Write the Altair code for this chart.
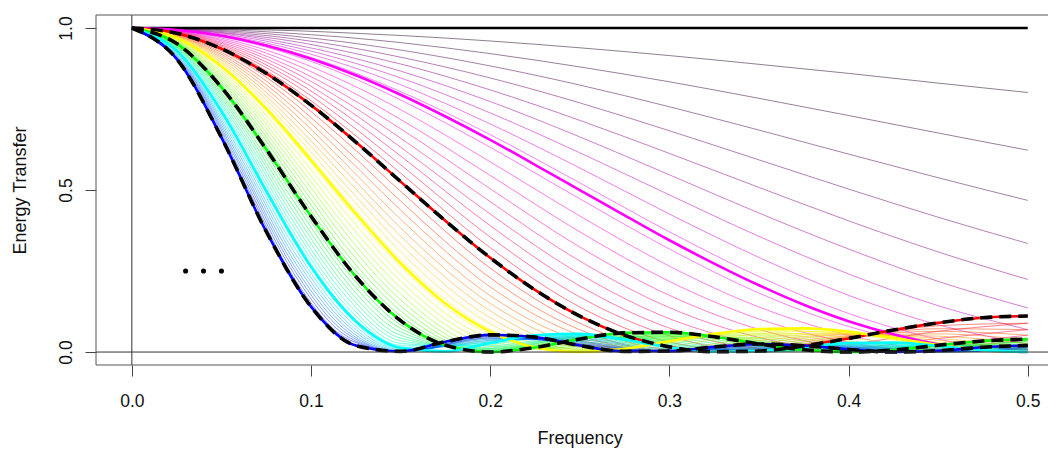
import altair as alt
import pandas as pd

# ---------------- data ----------------
FREQ_THIN = [0.0, 0.03, 0.06, 0.09, 0.12, 0.15, 0.2, 0.25, 0.3, 0.35, 0.4, 0.45, 0.5]
FREQ_THICK = [0.0, 0.025, 0.05, 0.075, 0.1, 0.125, 0.15, 0.175, 0.2, 0.225, 0.25,
              0.275, 0.3, 0.325, 0.35, 0.375, 0.4, 0.425, 0.45, 0.475, 0.5]

# fractional positions of the thin curves inside each span between two thick curves
T_A = [0.105, 0.211, 0.316, 0.421, 0.526, 0.632, 0.737, 0.842, 0.947]
T_B = [0.053, 0.158, 0.263, 0.368, 0.474, 0.579, 0.684, 0.789, 0.895]

thin_1_2 = [
    [1, 0.999, 0.996, 0.992, 0.985, 0.977, 0.960, 0.939, 0.915, 0.888, 0.860, 0.830, 0.801],
    [1, 0.998, 0.993, 0.983, 0.971, 0.955, 0.921, 0.880, 0.834, 0.783, 0.730, 0.676, 0.623],
    [1, 0.997, 0.989, 0.975, 0.956, 0.932, 0.883, 0.824, 0.757, 0.685, 0.611, 0.538, 0.468],
    [1, 0.996, 0.985, 0.967, 0.942, 0.910, 0.846, 0.769, 0.683, 0.593, 0.503, 0.416, 0.335],
    [1, 0.995, 0.981, 0.959, 0.927, 0.889, 0.809, 0.715, 0.613, 0.508, 0.405, 0.309, 0.224],
    [1, 0.994, 0.978, 0.950, 0.913, 0.867, 0.773, 0.664, 0.547, 0.429, 0.318, 0.218, 0.136],
    [1, 0.993, 0.974, 0.942, 0.899, 0.846, 0.738, 0.615, 0.485, 0.357, 0.241, 0.143, 0.069],
    [1, 0.993, 0.970, 0.934, 0.885, 0.825, 0.704, 0.568, 0.426, 0.292, 0.175, 0.084, 0.025],
    [1, 0.992, 0.967, 0.926, 0.871, 0.804, 0.671, 0.522, 0.371, 0.233, 0.119, 0.040, 0.003],
]
thin_2_3 = [
    [1, 0.990, 0.962, 0.916, 0.854, 0.778, 0.632, 0.473, 0.318, 0.182, 0.079, 0.018, 0.000],
    [1, 0.989, 0.956, 0.903, 0.832, 0.748, 0.587, 0.420, 0.265, 0.139, 0.052, 0.007, 0.003],
    [1, 0.987, 0.950, 0.890, 0.811, 0.718, 0.545, 0.371, 0.218, 0.102, 0.030, 0.001, 0.008],
    [1, 0.986, 0.944, 0.877, 0.790, 0.689, 0.504, 0.324, 0.175, 0.070, 0.014, 0.000, 0.015],
    [1, 0.984, 0.938, 0.865, 0.770, 0.660, 0.464, 0.281, 0.137, 0.045, 0.004, 0.004, 0.025],
    [1, 0.983, 0.932, 0.852, 0.750, 0.632, 0.426, 0.241, 0.103, 0.025, 0.000, 0.012, 0.037],
    [1, 0.981, 0.926, 0.840, 0.730, 0.605, 0.390, 0.204, 0.074, 0.011, 0.002, 0.024, 0.052],
    [1, 0.980, 0.920, 0.828, 0.710, 0.578, 0.355, 0.170, 0.050, 0.002, 0.010, 0.042, 0.069],
    [1, 0.978, 0.914, 0.815, 0.690, 0.552, 0.322, 0.139, 0.031, 0.000, 0.023, 0.064, 0.089],
]
thin_3_4 = [
    [1, 0.974, 0.901, 0.787, 0.647, 0.496, 0.259, 0.089, 0.009, 0.006, 0.044, 0.081, 0.089],
    [1, 0.972, 0.893, 0.771, 0.623, 0.466, 0.229, 0.069, 0.004, 0.010, 0.046, 0.072, 0.069],
    [1, 0.970, 0.885, 0.756, 0.600, 0.438, 0.201, 0.052, 0.001, 0.015, 0.048, 0.064, 0.052],
    [1, 0.968, 0.877, 0.740, 0.577, 0.410, 0.174, 0.037, 0.000, 0.021, 0.050, 0.056, 0.037],
    [1, 0.966, 0.869, 0.725, 0.555, 0.383, 0.150, 0.025, 0.001, 0.028, 0.053, 0.049, 0.025],
    [1, 0.964, 0.861, 0.709, 0.533, 0.358, 0.127, 0.015, 0.005, 0.036, 0.055, 0.042, 0.015],
    [1, 0.962, 0.853, 0.694, 0.511, 0.333, 0.106, 0.008, 0.010, 0.045, 0.057, 0.036, 0.008],
    [1, 0.960, 0.846, 0.679, 0.490, 0.309, 0.087, 0.003, 0.018, 0.055, 0.059, 0.030, 0.003],
    [1, 0.957, 0.838, 0.665, 0.470, 0.286, 0.070, 0.000, 0.027, 0.065, 0.061, 0.025, 0.000],
]
thin_4_5 = [
    [1, 0.955, 0.829, 0.649, 0.448, 0.263, 0.056, 0.000, 0.034, 0.068, 0.056, 0.018, 0.000],
    [1, 0.952, 0.820, 0.631, 0.426, 0.240, 0.044, 0.001, 0.037, 0.062, 0.044, 0.011, 0.001],
    [1, 0.950, 0.810, 0.614, 0.404, 0.219, 0.034, 0.003, 0.040, 0.057, 0.034, 0.005, 0.003],
    [1, 0.947, 0.801, 0.597, 0.382, 0.199, 0.025, 0.005, 0.042, 0.052, 0.025, 0.002, 0.005],
    [1, 0.944, 0.792, 0.581, 0.362, 0.179, 0.017, 0.009, 0.045, 0.046, 0.017, 0.000, 0.009],
    [1, 0.942, 0.782, 0.564, 0.342, 0.161, 0.011, 0.013, 0.048, 0.042, 0.011, 0.000, 0.013],
    [1, 0.939, 0.773, 0.548, 0.322, 0.143, 0.006, 0.019, 0.051, 0.037, 0.006, 0.003, 0.019],
    [1, 0.936, 0.764, 0.532, 0.303, 0.127, 0.003, 0.025, 0.054, 0.033, 0.003, 0.007, 0.025],
    [1, 0.934, 0.755, 0.517, 0.285, 0.111, 0.001, 0.032, 0.058, 0.029, 0.001, 0.013, 0.032],
]
thin_5_6 = [
    [1, 0.928, 0.735, 0.484, 0.249, 0.084, 0.000, 0.042, 0.055, 0.018, 0.000, 0.020, 0.032],
    [1, 0.924, 0.724, 0.468, 0.232, 0.073, 0.001, 0.043, 0.049, 0.013, 0.001, 0.020, 0.025],
    [1, 0.921, 0.714, 0.451, 0.215, 0.062, 0.003, 0.045, 0.043, 0.008, 0.003, 0.020, 0.019],
    [1, 0.918, 0.704, 0.435, 0.199, 0.052, 0.005, 0.046, 0.038, 0.005, 0.005, 0.020, 0.013],
    [1, 0.915, 0.693, 0.419, 0.184, 0.043, 0.008, 0.048, 0.033, 0.002, 0.008, 0.020, 0.009],
    [1, 0.912, 0.683, 0.403, 0.169, 0.035, 0.011, 0.050, 0.028, 0.000, 0.011, 0.019, 0.005],
    [1, 0.908, 0.673, 0.388, 0.154, 0.027, 0.015, 0.051, 0.024, 0.000, 0.015, 0.019, 0.003],
    [1, 0.905, 0.663, 0.373, 0.141, 0.021, 0.020, 0.053, 0.020, 0.001, 0.020, 0.019, 0.001],
    [1, 0.902, 0.653, 0.359, 0.128, 0.015, 0.025, 0.055, 0.016, 0.002, 0.025, 0.019, 0.000],
]
thin_6_7 = [
    [1, 0.899, 0.642, 0.344, 0.116, 0.011, 0.029, 0.053, 0.013, 0.004, 0.026, 0.016, 0.000],
    [1, 0.895, 0.631, 0.329, 0.105, 0.008, 0.031, 0.049, 0.009, 0.005, 0.024, 0.011, 0.001],
    [1, 0.891, 0.620, 0.314, 0.094, 0.005, 0.034, 0.045, 0.006, 0.007, 0.021, 0.007, 0.001],
    [1, 0.888, 0.609, 0.300, 0.084, 0.003, 0.036, 0.041, 0.003, 0.009, 0.019, 0.004, 0.003],
    [1, 0.884, 0.598, 0.286, 0.074, 0.001, 0.039, 0.037, 0.001, 0.011, 0.017, 0.002, 0.005],
    [1, 0.880, 0.587, 0.272, 0.065, 0.000, 0.042, 0.033, 0.000, 0.013, 0.015, 0.000, 0.007],
    [1, 0.877, 0.577, 0.259, 0.057, 0.000, 0.044, 0.030, 0.000, 0.016, 0.013, 0.000, 0.010],
    [1, 0.873, 0.566, 0.246, 0.049, 0.000, 0.047, 0.026, 0.000, 0.019, 0.011, 0.001, 0.013],
    [1, 0.869, 0.556, 0.233, 0.042, 0.001, 0.050, 0.023, 0.001, 0.022, 0.009, 0.002, 0.016],
]

thick_1 = [1, 1, 1, 1, 1, 1, 1, 1, 1, 1, 1, 1, 1, 1, 1, 1, 1, 1, 1, 1, 1]
thick_2 = [1, 0.994, 0.976, 0.946, 0.905, 0.854, 0.794, 0.727, 0.655, 0.578, 0.500,
           0.422, 0.345, 0.273, 0.206, 0.146, 0.095, 0.055, 0.024, 0.006, 0.000]
thick_3 = [1, 0.984, 0.936, 0.860, 0.762, 0.648, 0.526, 0.405, 0.291, 0.192, 0.111,
           0.052, 0.016, 0.001, 0.003, 0.019, 0.042, 0.068, 0.090, 0.106, 0.111]
thick_4 = [1, 0.970, 0.882, 0.751, 0.592, 0.427, 0.274, 0.150, 0.063, 0.014, 0.000,
           0.010, 0.033, 0.056, 0.071, 0.073, 0.063, 0.043, 0.022, 0.006, 0.000]
thick_5 = [1, 0.952, 0.817, 0.626, 0.419, 0.233, 0.097, 0.021, 0.000, 0.014, 0.040,
           0.059, 0.061, 0.047, 0.025, 0.007, 0.000, 0.006, 0.021, 0.034, 0.040]
thick_6 = [1, 0.930, 0.743, 0.497, 0.263, 0.095, 0.013, 0.002, 0.028, 0.052, 0.056,
           0.038, 0.015, 0.001, 0.003, 0.016, 0.028, 0.029, 0.019, 0.006, 0.000]
thick_7 = [1, 0.905, 0.662, 0.372, 0.140, 0.020, 0.002, 0.032, 0.053, 0.046, 0.020,
           0.002, 0.003, 0.016, 0.025, 0.020, 0.008, 0.000, 0.004, 0.015, 0.020]

dot_x = [0.03, 0.04, 0.05]
dot_y = [0.25, 0.25, 0.25]

LEVELS = [1, 2, 3, 4, 5, 6, 7]
LEVEL_COLORS = ["#000000", "#FF00FF", "#FF0000", "#FFFF00", "#00FF00", "#00FFFF", "#0000FF"]
DASHED_LEVELS = [3, 5, 7]

# ---------------- tables ----------------
thin_rows = []
cid = 0
for base, ts, curves in [(1, T_A, thin_1_2), (2, T_B, thin_2_3), (3, T_A, thin_3_4),
                         (4, T_B, thin_4_5), (5, T_A, thin_5_6), (6, T_B, thin_6_7)]:
    for t, vals in zip(ts, curves):
        for f, e in zip(FREQ_THIN, vals):
            thin_rows.append({"f": f, "E": e, "L": base + t, "id": cid})
        cid += 1
thin_df = pd.DataFrame(thin_rows)

thick_rows = []
for lev, vals in zip(LEVELS, [thick_1, thick_2, thick_3, thick_4, thick_5, thick_6, thick_7]):
    for f, e in zip(FREQ_THICK, vals):
        thick_rows.append({"f": f, "E": e, "L": lev})
thick_df = pd.DataFrame(thick_rows)
dashed_df = thick_df[thick_df["L"].isin(DASHED_LEVELS)]

dots_df = pd.DataFrame({"f": dot_x, "E": dot_y})

# ---------------- scales / axes ----------------
FONT = "Liberation Sans"
W, H = 952, 350
xs = alt.Scale(domain=[-0.02, 0.5113], nice=False, zero=False)
ys = alt.Scale(domain=[-0.04, 1.0402], nice=False, zero=False)

x_axis = alt.Axis(values=[0, 0.1, 0.2, 0.3, 0.4, 0.5], format=".1f", title="Frequency",
                  domain=False, grid=False, tickSize=11, tickColor="#444", tickWidth=1,
                  labelFont=FONT, labelFontSize=17.5, labelColor="#111", labelPadding=30,
                  labelBaseline="alphabetic", labelFlush=False,
                  titleFont=FONT, titleFontSize=18, titleFontWeight="normal", titleColor="#111",
                  titleX=483.6, titleY=78.5, titleBaseline="alphabetic", titleAlign="center")
y_axis = alt.Axis(values=[0, 0.5, 1.0], format=".1f", title="Energy Transfer",
                  domain=False, grid=False, tickSize=11, tickColor="#444", tickWidth=1,
                  labelFont=FONT, labelFontSize=17.5, labelColor="#111", labelPadding=14,
                  labelAngle=270, labelAlign="center", labelBaseline="alphabetic", labelFlush=False,
                  titleFont=FONT, titleFontSize=18, titleFontWeight="normal", titleColor="#111",
                  titleAngle=270, titleX=-70.5, titleY=175, titleBaseline="alphabetic",
                  titleAlign="center")

X = alt.X("f:Q", scale=xs, axis=x_axis)
Y = alt.Y("E:Q", scale=ys, axis=y_axis)
color_scale = alt.Scale(domain=LEVELS, range=LEVEL_COLORS, interpolate="rgb")

thin = alt.Chart(thin_df).mark_line(strokeWidth=1, opacity=0.5, interpolate="monotone", clip=True).encode(
    x=X, y=Y, color=alt.Color("L:Q", scale=color_scale, legend=None), detail="id:N")

thick = alt.Chart(thick_df).mark_line(strokeWidth=2.6, interpolate="monotone", clip=True).encode(
    x=X, y=Y, color=alt.Color("L:Q", scale=color_scale, legend=None), detail="L:N")

dashed = alt.Chart(dashed_df).mark_line(strokeWidth=3.6, color="black", strokeDash=[12, 7],
                                        interpolate="monotone", clip=True).encode(
    x=X, y=Y, detail="L:N")

dots = alt.Chart(dots_df).mark_circle(size=26, color="black", opacity=1).encode(x=X, y=Y)

one = pd.DataFrame({"f": [0.0], "E": [0.0]})
hline0 = alt.Chart(one).mark_rule(color="#333", strokeWidth=1).encode(
    y=Y, x=alt.value(0), x2=alt.value(W))
vline0 = alt.Chart(one).mark_rule(color="#333", strokeWidth=1).encode(
    x=X, y=alt.value(0), y2=alt.value(H))
box_top = alt.Chart(one).mark_rule(color="#555", strokeWidth=1).encode(
    x=alt.value(0), x2=alt.value(W), y=alt.value(0))
box_bottom = alt.Chart(one).mark_rule(color="#555", strokeWidth=1).encode(
    x=alt.value(0), x2=alt.value(W), y=alt.value(H))
box_left = alt.Chart(one).mark_rule(color="#555", strokeWidth=1).encode(
    x=alt.value(0), y=alt.value(0), y2=alt.value(H))

chart = alt.layer(thin, thick, dashed, dots, hline0, vline0, box_top, box_bottom, box_left).properties(
    width=W, height=H,
    padding={"left": 88, "top": 7, "right": 0, "bottom": 85},
    autosize=alt.AutoSizeParams(type="none"),
    background="white",
).configure_view(stroke=None)

chart.save("out.html", embed_options={"renderer": "svg", "actions": False})
